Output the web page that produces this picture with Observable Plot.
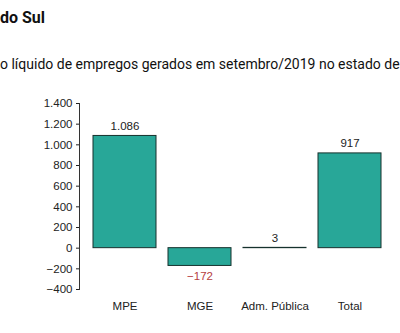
<!DOCTYPE html>
<html><head><meta charset="utf-8">
<script src="https://cdn.jsdelivr.net/npm/d3@7"></script>
<script src="https://cdn.jsdelivr.net/npm/@observablehq/plot@0.6"></script>
<style>
html,body{margin:0;padding:0;background:#fff;width:400px;height:333px;overflow:hidden;position:relative}
#title{position:absolute;left:0;top:8px;font:bold 16px Roboto,sans-serif;color:#111;white-space:nowrap}
#sub{position:absolute;left:0;top:56px;font:14px Roboto,sans-serif;color:#111;white-space:nowrap}
#chart{position:absolute;left:0;top:90px}
</style></head><body>
<div id="title">do Sul</div>
<div id="sub">o líquido de empregos gerados em setembro/2019 no estado de Mato Grosso do Sul</div>
<div id="chart"></div>
<script>
const categories = ["MPE", "MGE", "Adm. Pública", "Total"];
const values = [1086, -172, 3, 917];
const yTicks = [-400, -200, 0, 200, 400, 600, 800, 1000, 1200, 1400];

const data = categories.map((c, i) => ({cat: c, v: values[i]}));
const loc = d3.formatLocale({decimal: ",", thousands: ".", grouping: [3], currency: ["R$", ""], minus: "\u2212"});
const fmt = loc.format(",d");

const chart = Plot.plot({
  width: 400, height: 243,
  marginTop: 13, marginBottom: 44, marginLeft: 79, marginRight: 5,
  style: {fontFamily: "'Liberation Sans', Arial, sans-serif", fontSize: "11.5px", color: "#222", background: "white"},
  x: {domain: categories, padding: 0.158, label: null, tickSize: 0, tickPadding: 12},
  y: {domain: [-400, 1400], ticks: yTicks, tickFormat: fmt, label: null, tickSize: 3, tickPadding: 4},
  marks: [
    Plot.frame({anchor: "left", stroke: "#333"}),
    Plot.barY(data, {x: "cat", y: "v", fill: "#28a798", stroke: "#16312d", strokeWidth: 1}),
    Plot.text(data.filter(d => d.v >= 0), {x: "cat", y: "v", text: d => fmt(d.v), dy: -10, fill: "#222", fontSize: 11.5}),
    Plot.text(data.filter(d => d.v < 0), {x: "cat", y: "v", text: d => fmt(d.v), dy: 10, fill: "#b5403e", fontSize: 11.5})
  ]
});
document.getElementById("chart").appendChild(chart);
</script>
</body></html>
